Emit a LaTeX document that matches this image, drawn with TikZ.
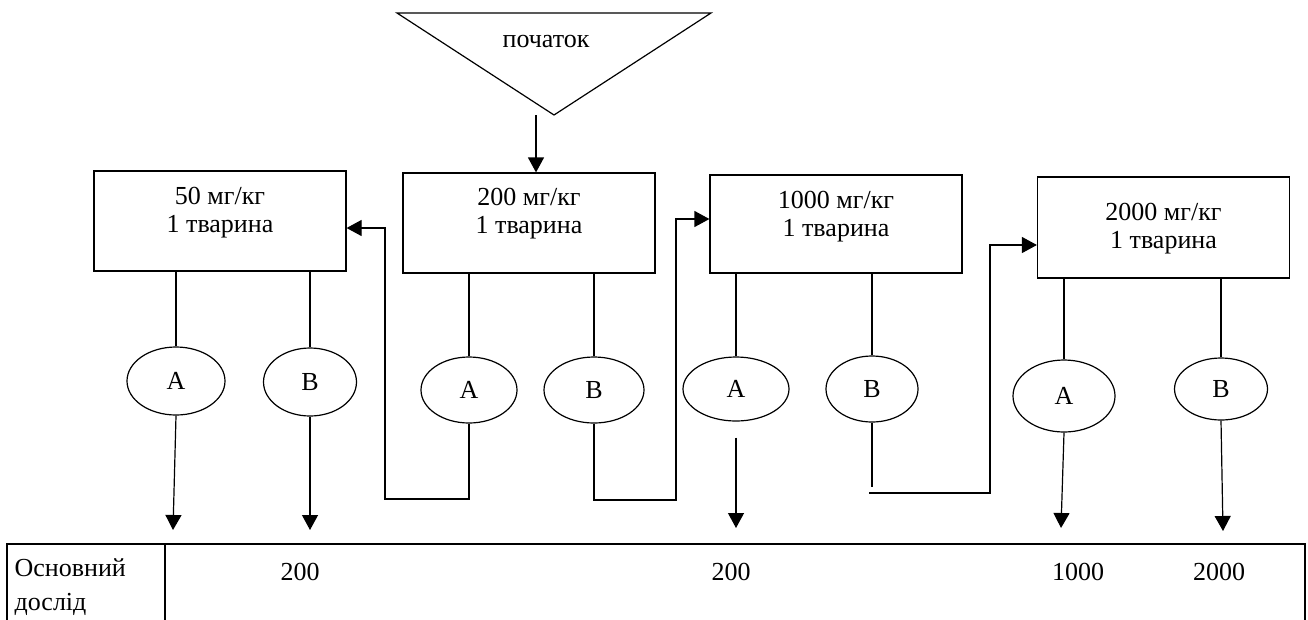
\documentclass[tikz,border=0pt]{standalone}
\usepackage{fontspec}
\setmainfont{Liberation Serif}
\usetikzlibrary{arrows.meta,shapes.geometric}

\begin{document}
\begin{tikzpicture}[
  x=1pt, y=-1pt,
  line width=1.2pt,
  every node/.style={font=\fontsize{26}{28}\selectfont, inner sep=0pt},
  dose/.style={draw, minimum width=252pt, minimum height=100pt},
  dosetxt/.style={align=center, anchor=base},
  grp/.style={draw, ellipse, minimum width=96pt, minimum height=66pt},
  val/.style={anchor=base},
  arr/.style={->, >={Triangle[length=15pt,width=16pt]}}
]
  \useasboundingbox (0,0) rectangle (1308,619);

  % start triangle
  \coordinate (tl) at (397,13);
  \coordinate (tr) at (711,13);
  \coordinate (tb) at (554,115);
  \draw (tl) -- (tr) -- (tb) -- cycle;
  \node (start) at (546,41) {початок};
  \coordinate (s0) at (536,115);

  % dose boxes
  \node[dose] (d50) at (220,221) {};
  \node[dose] (d200) at (529,223) {};
  \node[dose, minimum height=98pt] (d1000) at (836,224) {};
  \node[dose, minimum height=101pt] (d2000) at (1163.5,227.5) {};
  \node[dosetxt] (t50) at (220,232) {50 мг/кг\\1 тварина};
  \node[dosetxt] (t200) at (529,233) {200 мг/кг\\1 тварина};
  \node[dosetxt] (t1000) at (836,236) {1000 мг/кг\\1 тварина};
  \node[dosetxt] (t2000) at (1163.5,248) {2000 мг/кг\\1 тварина};

  % groups A and B
  \node[grp, minimum width=98pt, minimum height=68pt] (a50) at (176,381) {A};
  \node[grp, minimum width=93pt, minimum height=68pt] (b50) at (310,382) {B};
  \node[grp] (a200) at (469,390) {A};
  \node[grp, minimum width=100pt] (b200) at (594,390) {B};
  \node[grp, minimum width=106pt, minimum height=64pt] (a1000) at (736,389) {A};
  \node[grp, minimum width=92pt] (b1000) at (872,389) {B};
  \node[grp, minimum width=102pt, minimum height=72pt] (a2000) at (1064,396) {A};
  \node[grp, minimum width=93pt, minimum height=62pt] (b2000) at (1221,389) {B};

  \draw[arr] (s0) -- (s0 |- d200.north);
  \foreach \g/\d in {a50/d50, b50/d50, a200/d200, b200/d200,
                     a1000/d1000, b1000/d1000, a2000/d2000, b2000/d2000}
    \draw (\g.north) -- (\g.north |- \d.south);

  % loops between the doses
  \coordinate (c1) at (385,499);
  \coordinate (c2) at (676,500);
  \coordinate (c3) at (869,493);
  \coordinate (c4) at (990,245);
  \draw[arr] (a200.south) |- (c1) |- ([yshift=-7pt]d50.east);
  \draw[arr] (b200.south) |- (c2) |- ([yshift=5pt]d1000.west);
  \draw (b1000.south) -- ++(0,64);
  \draw[arr] (c3) -| (c4) -- (c4 -| d2000.west);

  % down to the table
  \coordinate (e1) at (173,530);
  \coordinate (e2) at (310,530);
  \coordinate (e3) at (736,528);
  \coordinate (e4) at (1061,528);
  \coordinate (e5) at (1223,531);
  \draw[arr] (a50.south) -- (e1);
  \draw[arr] (b50.south) -- (e2);
  \draw[arr] ([yshift=-16pt]a1000.south) -- (e3);
  \draw[arr] (a2000.south) -- (e4);
  \draw[arr] (b2000.south) -- (e5);

  % table
  \draw (7,544) rectangle (1305,621);
  \draw (165,544) -- (165,621);
  \node[font=\fontsize{26}{34}\selectfont, align=left, anchor=base west] (main) at (14,610) {Основний\\дослід};
  \node[val] (v1) at (300,580) {200};
  \node[val] (v2) at (731,580) {200};
  \node[val] (v3) at (1078,580) {1000};
  \node[val] (v4) at (1219,580) {2000};
\end{tikzpicture}
\end{document}
